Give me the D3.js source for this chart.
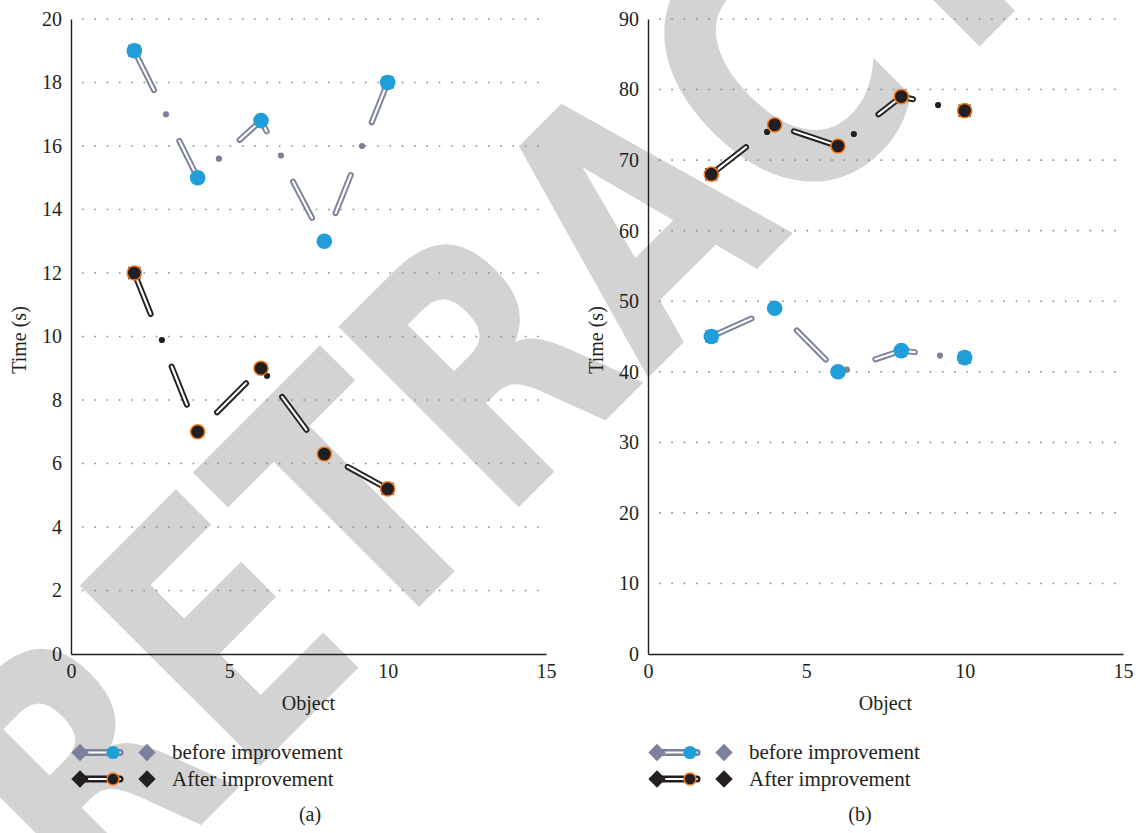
<!DOCTYPE html>
<html>
<head>
<meta charset="utf-8">
<script src="https://cdn.jsdelivr.net/npm/d3@7"></script>
<style>
  body { margin: 0; background: #fff; }
  svg { display: block; }
  .serif { font-family: "Liberation Serif", "Times New Roman", serif; fill: #231f20; }
</style>
</head>
<body>
<svg id="chart" width="1138" height="833"></svg>
<script>
// ---- data ----
const objects = [2, 4, 6, 8, 10];

const beforeA = [19, 15, 16.8, 13, 18];
const afterA  = [12, 7, 9, 6.3, 5.2];
const beforeB = [45, 49, 40, 43, 42];
const afterB  = [68, 75, 72, 79, 77];

// intermediate samples (small diamond series)
const beforeADotX = [3, 4.67, 6.63, 9.19];
const beforeADotY = [17, 15.6, 15.7, 16];
const afterADotX  = [2.87, 6.19];
const afterADotY  = [9.89, 8.76];
const beforeBDotX = [6.28, 9.22];
const beforeBDotY = [40.3, 42.3];
const afterBDotX  = [3.76, 6.5, 9.16];
const afterBDotY  = [74.0, 73.7, 77.8];

const xTicks  = [0, 5, 10, 15];
const yTicksA = [0, 2, 4, 6, 8, 10, 12, 14, 16, 18, 20];
const yTicksB = [0, 10, 20, 30, 40, 50, 60, 70, 80, 90];

const seriesNames = ["before improvement", "After improvement"];
const panelTags = ["(a)", "(b)"];

// ---- styles ----
const INK = "#231f20";
const SLATE = "#7b809b";
const BLUE = "#1f9eda";
const ORANGE = "#f47b20";
const styles = [
  { line: SLATE, dot: SLATE, fill: BLUE, ring: "none" },
  { line: INK,   dot: INK,   fill: INK,  ring: ORANGE }
];

const svg = d3.select("#chart");

// watermark
svg.append("text")
  .attr("transform", "translate(97,929) rotate(-45)")
  .attr("font-family", "'Liberation Sans Narrow','Arial Narrow','DejaVu Sans Condensed',sans-serif")
  .attr("font-weight", "bold")
  .attr("font-size", 350)
  .attr("textLength", 1770)
  .attr("lengthAdjust", "spacingAndGlyphs")
  .attr("fill", "#d3d3d3")
  .text("RETRACTED");

const zip = (xs, ys) => xs.map((x, i) => ({ x, y: ys[i] }));

const panels = [
  { left: 71,  yMax: 20, yTicks: yTicksA, tagX: 310,
    series: [ { pts: zip(objects, beforeA), dots: zip(beforeADotX, beforeADotY) },
              { pts: zip(objects, afterA),  dots: zip(afterADotX, afterADotY) } ] },
  { left: 648, yMax: 90, yTicks: yTicksB, tagX: 860,
    series: [ { pts: zip(objects, beforeB), dots: zip(beforeBDotX, beforeBDotY) },
              { pts: zip(objects, afterB),  dots: zip(afterBDotX, afterBDotY) } ] }
];

const plotTop = 19, plotBottom = 654, plotW = 475;

panels.forEach((p, pi) => {
  const x = d3.scaleLinear().domain([0, 15]).range([p.left, p.left + plotW]);
  const y = d3.scaleLinear().domain([0, p.yMax]).range([plotBottom, plotTop]);
  const g = svg.append("g");

  // dotted gridlines
  g.append("g").selectAll("line")
    .data(p.yTicks.filter(t => t > 0))
    .join("line")
    .attr("x1", x(0) + 11).attr("x2", x(15))
    .attr("y1", d => y(d)).attr("y2", d => y(d))
    .attr("stroke", "#8c8c8c").attr("stroke-width", 1.6)
    .attr("stroke-dasharray", "1.6 10.7");

  // axes
  const ax = g.append("g").attr("transform", `translate(0,${plotBottom})`)
    .call(d3.axisBottom(x).tickValues(xTicks).tickSize(0).tickPadding(10).tickSizeOuter(0));
  const ay = g.append("g").attr("transform", `translate(${x(0)},0)`)
    .call(d3.axisLeft(y).tickValues(p.yTicks).tickSize(0).tickPadding(9).tickSizeOuter(0));
  [ax, ay].forEach(a => {
    a.select(".domain").attr("stroke", INK).attr("stroke-width", 1.4);
    a.selectAll("text").attr("class", "serif").attr("font-size", 20).attr("fill", INK);
  });

  // titles
  g.append("text").attr("class", "serif").attr("font-size", 20)
    .attr("text-anchor", "middle")
    .attr("x", x(7.5)).attr("y", 710).text("Object");
  g.append("text").attr("class", "serif").attr("font-size", 20)
    .attr("text-anchor", "middle")
    .attr("transform", `translate(${p.left - 45},340) rotate(-90)`)
    .text("Time (s)");
  g.append("text").attr("class", "serif").attr("font-size", 20)
    .attr("text-anchor", "middle")
    .attr("x", p.tagX).attr("y", 821).text(panelTags[pi]);

  const line = d3.line().x(d => x(d.x)).y(d => y(d.y));

  p.series.forEach((s, si) => {
    const st = styles[si];
    const sg = g.append("g");
    // compound dashed line: coloured outline with white core
    [[6, st.line], [2.2, "#fff"]].forEach(([w, c]) => {
      sg.append("path").datum(s.pts).attr("d", line)
        .attr("fill", "none").attr("stroke", c).attr("stroke-width", w)
        .attr("stroke-linecap", "round").attr("stroke-linejoin", "round")
        .attr("stroke-dasharray", "41 56.7").attr("stroke-dashoffset", -3);
    });
    // end markers behind the circles
    const ends = [s.pts[0], s.pts[s.pts.length - 1]];
    sg.selectAll("rect.end").data(ends).join("rect").attr("class", "end")
      .attr("x", d => x(d.x) - 6.2).attr("y", d => y(d.y) - 6.2)
      .attr("width", 12.4).attr("height", 12.4).attr("fill", st.dot);
    // small samples
    sg.selectAll("circle.dot").data(s.dots).join("circle").attr("class", "dot")
      .attr("cx", d => x(d.x)).attr("cy", d => y(d.y)).attr("r", 3.1)
      .attr("fill", st.dot);
    // main markers
    sg.selectAll("circle.pt").data(s.pts).join("circle").attr("class", "pt")
      .attr("cx", d => x(d.x)).attr("cy", d => y(d.y))
      .attr("r", st.ring === "none" ? 7.8 : 7.1)
      .attr("fill", st.fill)
      .attr("stroke", st.ring).attr("stroke-width", 1.5);
  });

  // legend
  const diamond = d3.symbol().type(d3.symbolSquare).size(150);
  seriesNames.forEach((name, si) => {
    const st = styles[si];
    const lg = g.append("g").attr("transform", `translate(${p.left + 9},${752.5 + si * 26.5})`);
    [[7, st.line], [2.2, "#fff"]].forEach(([w, c]) => {
      lg.append("line").attr("x1", 0).attr("x2", 40).attr("y1", 0).attr("y2", 0)
        .attr("stroke", c).attr("stroke-width", w).attr("stroke-linecap", "round");
    });
    lg.append("path").attr("d", diamond).attr("transform", "rotate(45)").attr("fill", st.dot);
    lg.append("circle").attr("cx", 33).attr("r", st.ring === "none" ? 6.6 : 6)
      .attr("fill", st.fill).attr("stroke", st.ring).attr("stroke-width", 1.5);
    lg.append("path").attr("d", diamond).attr("transform", "translate(67,0) rotate(45)").attr("fill", st.dot);
    lg.append("text").attr("class", "serif").attr("font-size", 21)
      .attr("x", 92).attr("y", 6.5).text(name);
  });
});
</script>
</body>
</html>
